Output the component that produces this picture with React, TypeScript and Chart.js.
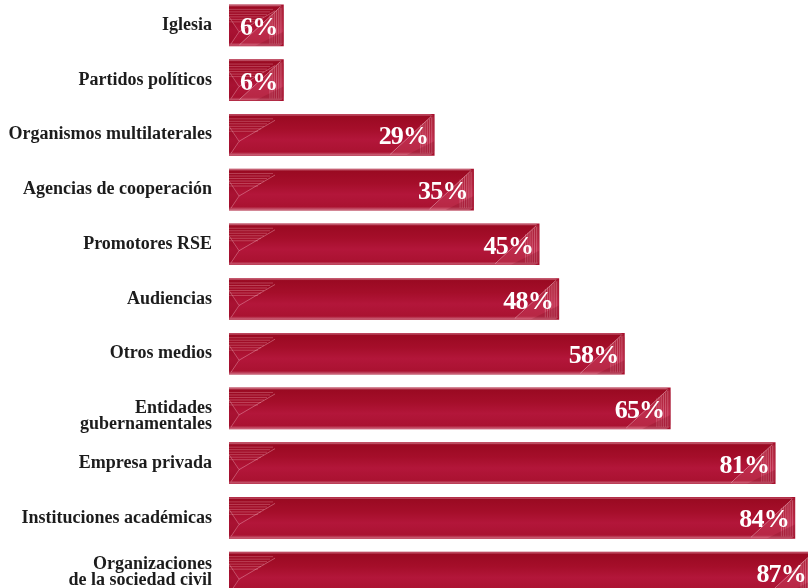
import { useEffect, useRef } from "react";
import { Chart, registerables } from "chart.js";

Chart.register(...registerables);

// Category labels (multi-line where the reference wraps). A leading blank line
// nudges "Entidades gubernamentales" down as in the reference.
const categories: (string | string[])[] = [
  "Iglesia",
  "Partidos políticos",
  "Organismos multilaterales",
  "Agencias de cooperación",
  "Promotores RSE",
  "Audiencias",
  "Otros medios",
  ["", "Entidades", "gubernamentales"],
  "Empresa privada",
  "Instituciones académicas",
  ["Organizaciones", "de la sociedad civil"],
];

const values = [6, 6, 29, 35, 45, 48, 58, 65, 81, 84, 87];
const valueLabels = values.map((v) => `${v}%`);

const AXIS_MIN = -2.3;
const AXIS_MAX = 86;

const barDecor = {
  id: "barDecor",
  afterDatasetsDraw(chart: any) {
    const { ctx, chartArea } = chart;
    const meta = chart.getDatasetMeta(0);
    meta.data.forEach((el: any, i: number) => {
      const { x, y, base, height } = el.getProps(["x", "y", "base", "height"], true);
      const x0 = Math.min(base, x);
      const x1 = Math.max(base, x);
      const h = height;
      const y0 = y - h / 2;
      const y1 = y + h / 2;
      const w = x1 - x0;

      ctx.save();
      ctx.beginPath();
      ctx.rect(chartArea.left, chartArea.top, chartArea.right - chartArea.left, chartArea.bottom - chartArea.top);
      ctx.clip();
      ctx.beginPath();
      ctx.roundRect(x0, y0, w, h, [0, 5, 5, 0]);
      ctx.clip();

      const g = ctx.createLinearGradient(0, y0, 0, y1);
      g.addColorStop(0, "#d27a8c");
      g.addColorStop(0.05, "#9a0a22");
      g.addColorStop(0.35, "#a50e2a");
      g.addColorStop(0.62, "#b3163a");
      g.addColorStop(0.92, "#aa1231");
      g.addColorStop(1, "#cf6d82");
      ctx.fillStyle = g;
      ctx.fillRect(x0, y0, w, h);

      // left decoration: horizontal stripes and chevron
      ctx.strokeStyle = "rgba(255,200,210,0.28)";
      ctx.lineWidth = 1;
      for (let k = 0; k < 6; k++) {
        const yy = y0 + 4.5 + k * 2.5;
        const len = Math.min(44 - k * 3, w - 8);
        ctx.beginPath();
        ctx.moveTo(x0, yy);
        ctx.lineTo(x0 + len, yy);
        ctx.stroke();
      }
      ctx.strokeStyle = "rgba(255,210,220,0.35)";
      ctx.beginPath();
      ctx.moveTo(x0, y0 + 12);
      ctx.lineTo(x0 + 10, y0 + 27);
      ctx.lineTo(x0 + Math.min(46, w - 6), y0 + 6);
      ctx.moveTo(x0 + 10, y0 + 27);
      ctx.lineTo(x0 + 2, y1 - 2);
      ctx.stroke();
      ctx.fillStyle = "rgba(120,0,20,0.18)";
      ctx.beginPath();
      ctx.moveTo(x0, y0 + 12);
      ctx.lineTo(x0 + 10, y0 + 27);
      ctx.lineTo(x0, y1);
      ctx.closePath();
      ctx.fill();

      // right decoration: lighter triangle with vertical stripes
      const rx = x1 - Math.min(44, w - 8);
      ctx.fillStyle = "rgba(230,120,140,0.22)";
      ctx.beginPath();
      ctx.moveTo(x1 - 3, y0 + 2);
      ctx.lineTo(x1, y0 + 2);
      ctx.lineTo(x1, y1);
      ctx.lineTo(rx, y1);
      ctx.closePath();
      ctx.fill();
      ctx.strokeStyle = "rgba(255,210,220,0.3)";
      for (let k = 0; k < 6; k++) {
        const xx = x1 - 2.5 - k * 2.2;
        ctx.beginPath();
        ctx.moveTo(xx, y0 + 3 + k * 1.5);
        ctx.lineTo(xx, y1 - 2);
        ctx.stroke();
      }
      ctx.strokeStyle = "rgba(255,220,228,0.45)";
      ctx.beginPath();
      ctx.moveTo(x1 - 3, y0 + 2);
      ctx.lineTo(rx, y1 - 1);
      ctx.stroke();
      ctx.fillStyle = "rgba(110,0,20,0.2)";
      ctx.beginPath();
      ctx.moveTo(x1, y1 - 14);
      ctx.lineTo(x1, y1);
      ctx.lineTo(x1 - 28, y1);
      ctx.closePath();
      ctx.fill();
      ctx.restore();

      // value label
      ctx.save();
      ctx.font = "bold 26px 'Liberation Serif', serif";
      (ctx as any).letterSpacing = "-0.8px";
      ctx.fillStyle = "#ffffff";
      ctx.textAlign = "right";
      ctx.textBaseline = "alphabetic";
      const tx = Math.min(x1, chartArea.right + 4) - 6;
      ctx.fillText(valueLabels[i], tx, y + 9.5);
      ctx.restore();
    });
  },
};

export default function App() {
  const ref = useRef<HTMLCanvasElement | null>(null);

  useEffect(() => {
    if (!ref.current) return;
    const chart = new Chart(ref.current, {
      type: "bar",
      data: {
        labels: categories,
        datasets: [
          {
            data: values,
            base: AXIS_MIN,
            backgroundColor: "#a8112e",
            borderWidth: 0,
            barThickness: 41,
          } as any,
        ],
      },
      options: {
        indexAxis: "y",
        animation: false,
        responsive: false,
        maintainAspectRatio: false,
        layout: { padding: 0 },
        plugins: {
          legend: { display: false },
          tooltip: { enabled: false },
        },
        scales: {
          x: {
            display: false,
            min: AXIS_MIN,
            max: AXIS_MAX,
          },
          y: {
            grid: { display: false, drawTicks: false },
            border: { display: false },
            ticks: {
              color: "#1c1c1c",
              padding: 17,
              font: { family: "'Liberation Serif', serif", size: 18, weight: "bold", lineHeight: 0.88 },
            },
            afterFit: (scale: any) => {
              scale.width = 229;
              scale.paddingTop = 0;
              scale.paddingBottom = 0;
            },
          },
        },
      },
      plugins: [barDecor],
    });
    return () => chart.destroy();
  }, []);

  return (
    <div style={{ position: "fixed", left: 0, top: -2, width: 808, height: 602, overflow: "hidden", background: "#fff" }}>
      <canvas ref={ref} width={808} height={602} style={{ display: "block", width: 808, height: 602 }} />
    </div>
  );
}
